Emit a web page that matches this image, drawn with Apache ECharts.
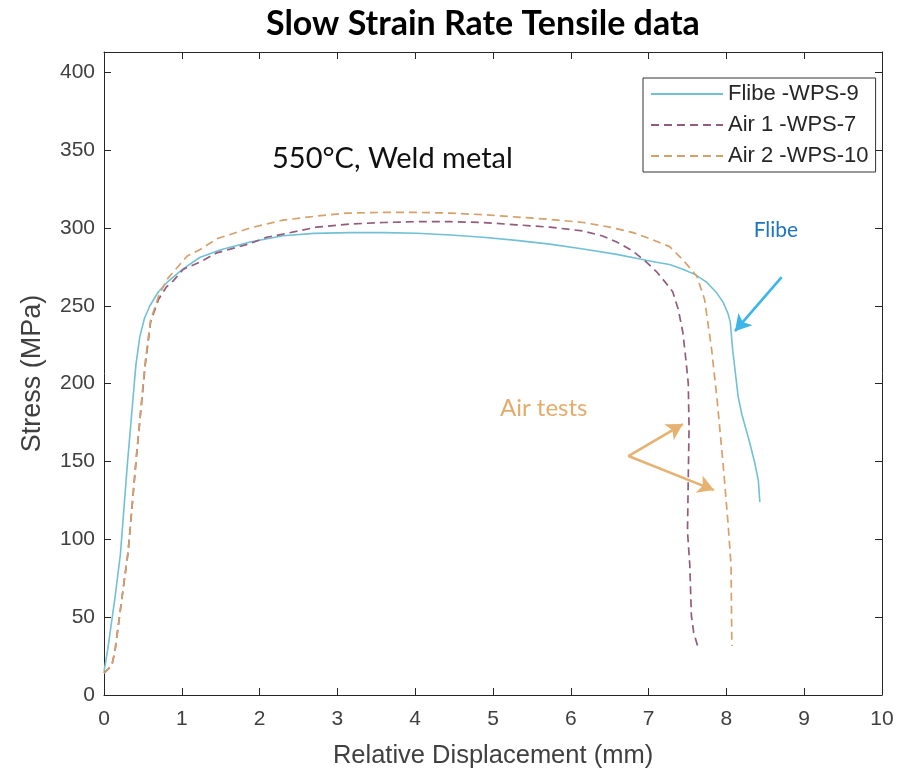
<!DOCTYPE html>
<html>
<head>
<meta charset="utf-8">
<title>Slow Strain Rate Tensile data</title>
<script src="https://cdn.jsdelivr.net/npm/echarts@6/dist/echarts.min.js"></script>
<style>
html,body{margin:0;padding:0;background:#fff;}
#main{width:897px;height:774px;}
</style>
</head>
<body>
<div id="main"></div>
<script>
// Flibe -WPS-9 (solid)
var flibeX = [0, 0.05, 0.14, 0.21, 0.3, 0.41, 0.46, 0.52, 0.59, 0.7, 0.81, 1.0, 1.23, 1.5, 1.88, 2.3, 2.7, 3.16, 3.6, 4.02, 4.45, 4.87, 5.3, 5.73, 6.16, 6.59, 6.89, 7.1, 7.27, 7.44, 7.6, 7.75, 7.88, 7.96, 8.02, 8.05, 8.08, 8.12, 8.15, 8.2, 8.3, 8.36, 8.41, 8.43];
var flibeY = [15, 30, 62, 90, 148, 212, 230, 242, 250, 259, 265, 273, 281, 286, 291, 295, 296.5, 297, 297, 296.6, 295.5, 294, 292, 289.6, 286.5, 283, 280, 278, 276.5, 273.5, 270, 265, 258, 252, 245, 239.5, 222, 205, 192, 180, 162, 150, 138, 124];
// Air 1 -WPS-7 (dashed)
var air1X = [0, 0.1, 0.14, 0.23, 0.31, 0.42, 0.53, 0.6, 0.7, 0.8, 0.89, 1.02, 1.23, 1.45, 1.88, 2.09, 2.3, 2.73, 3.16, 3.6, 4.02, 4.45, 4.87, 5.3, 5.73, 6.16, 6.4, 6.59, 6.8, 6.95, 7.1, 7.2, 7.31, 7.38, 7.44, 7.48, 7.51, 7.52, 7.51, 7.5, 7.53, 7.55, 7.58, 7.63];
var air1Y = [14, 19, 28, 62, 92, 155, 212, 240, 254, 262, 266, 273.5, 278, 284, 290, 294, 296, 300.5, 302.5, 303.5, 304, 304, 303.5, 302, 300.5, 298, 295, 291, 285, 279, 272, 266, 259, 248, 233, 215, 200, 171, 140, 105, 83, 51, 40, 31.5];
// Air 2 -WPS-10 (dashed)
var air2X = [0, 0.1, 0.14, 0.23, 0.31, 0.42, 0.53, 0.6, 0.7, 0.81, 1.07, 1.23, 1.45, 1.88, 2.3, 2.73, 3.12, 3.59, 4.02, 4.45, 4.87, 5.31, 5.73, 6.16, 6.5, 6.8, 7.05, 7.27, 7.45, 7.62, 7.72, 7.81, 7.88, 7.96, 8.02, 8.06, 8.07];
var air2Y = [14, 19, 28, 62, 92, 155, 214, 241, 256, 267, 282, 286, 293, 300, 305, 307.6, 309.5, 310, 310, 309.5, 308.5, 307, 305.5, 303.5, 300.5, 297, 292.5, 288, 279, 269, 254, 222, 190, 147, 111, 83, 31.5];

var seriesNames = ['Flibe -WPS-9', 'Air 1 -WPS-7', 'Air 2 -WPS-10'];
var xTicks = [0, 10, 1];     // min, max, interval
var yTicks = [0, 413, 50];

// annotations (data coords)
var flibeArrow = [[8.71, 268.4], [8.11, 233.7]];
var airArrows = [[[6.74, 153.5], [7.44, 174]], [[6.74, 153.5], [7.84, 131.6]]];
var notes = [
	{text: '550°C, Weld metal', at: [2.16, 342], color: '#111', size: 29},
	{text: 'Flibe', at: [8.35, 296.6], color: '#1f74c0', size: 21},
	{text: 'Air tests', at: [5.09, 182], color: '#e4ac6c', size: 24}
];

function pairs(xs, ys) {
	var out = [];
	for (var i = 0; i < xs.length; i++) out.push([xs[i], ys[i]]);
	return out;
}

var axisFont = 'Liberation Sans, Arial, sans-serif';
var noteFont = 'Lato, Open Sans, sans-serif';
var axisColor = '#262626';
var labelColor = '#404040';

function boxAxis(ticks, pos, opt) {
	return Object.assign({
		type: 'value', min: ticks[0], max: ticks[1], interval: ticks[2], position: pos,
		axisLine: {show: true, onZero: false, lineStyle: {color: axisColor, width: 1}},
		axisTick: {show: true, inside: true, length: 7, lineStyle: {color: axisColor}},
		axisLabel: {show: false},
		splitLine: {show: false}
	}, opt || {});
}

var chart = echarts.init(document.getElementById('main'), null, {renderer: 'canvas'});

var lineCommon = {type: 'line', symbol: 'none', showSymbol: false, smooth: false, silent: true};

var option = {
	backgroundColor: '#fff',
	animation: false,
	title: {
		text: 'Slow Strain Rate Tensile data', left: 261, top: 2,
		textStyle: {fontFamily: noteFont, fontWeight: 'bold', fontSize: 34, color: '#000'}
	},
	grid: {left: 104, right: 15, top: 52, bottom: 78},
	legend: {
		data: seriesNames, orient: 'vertical', left: 643, top: 78,
		backgroundColor: '#fff', borderColor: '#333', borderWidth: 1,
		padding: [5, 7, 5, 7], itemWidth: 72, itemHeight: 14, itemGap: 9,
		itemStyle: {opacity: 0},
		textStyle: {fontFamily: axisFont, fontSize: 22, color: '#262626'}
	},
	xAxis: [
		boxAxis(xTicks, 'bottom', {
			axisLabel: {show: true, fontFamily: axisFont, fontSize: 21, color: labelColor, margin: 14},
			name: 'Relative Displacement (mm)', nameLocation: 'middle', nameGap: 48,
			nameTextStyle: {fontFamily: axisFont, fontSize: 25.5, color: labelColor}
		}),
		boxAxis(xTicks, 'top')
	],
	yAxis: [
		boxAxis(yTicks, 'left', {
			axisLabel: {show: true, fontFamily: axisFont, fontSize: 21, color: labelColor, margin: 9,
				formatter: function (v) { return v % 50 === 0 ? v : ''; }},
			name: 'Stress (MPa)', nameLocation: 'middle', nameGap: 58,
			nameTextStyle: {fontFamily: axisFont, fontSize: 27, color: labelColor}
		}),
		boxAxis(yTicks, 'right')
	],
	series: [
		Object.assign({name: seriesNames[0], data: pairs(flibeX, flibeY),
			lineStyle: {color: '#72c0d6', width: 1.6}, itemStyle: {color: '#72c0d6'}}, lineCommon),
		Object.assign({name: seriesNames[1], data: pairs(air1X, air1Y),
			lineStyle: {color: '#935b7c', width: 1.7, type: [8, 5]}, itemStyle: {color: '#935b7c'}}, lineCommon),
		Object.assign({name: seriesNames[2], data: pairs(air2X, air2Y),
			lineStyle: {color: '#d6a06a', width: 1.7, type: [8, 5]}, itemStyle: {color: '#d6a06a'}}, lineCommon),
		{
			name: 'arrows', type: 'line', data: [], silent: true,
			markLine: {
				silent: true, symbol: ['none', 'arrow'], symbolSize: [14, 16], label: {show: false},
				animation: false,
				data: [
					[{coord: flibeArrow[0], lineStyle: {color: '#3db5e8', width: 2.6, type: 'solid'}}, {coord: flibeArrow[1]}],
					[{coord: airArrows[0][0], lineStyle: {color: '#e6b271', width: 2.6, type: 'solid'}}, {coord: airArrows[0][1]}],
					[{coord: airArrows[1][0], lineStyle: {color: '#e6b271', width: 2.6, type: 'solid'}}, {coord: airArrows[1][1]}]
				]
			}
		}
	]
};
chart.setOption(option);

// place the text notes from data coords
var g = [];
for (var i = 0; i < notes.length; i++) {
	var p = chart.convertToPixel({gridIndex: 0}, notes[i].at);
	g.push({
		type: 'text', left: p[0], top: p[1] - notes[i].size * 0.62,
		style: {text: notes[i].text, fill: notes[i].color, fontSize: notes[i].size, fontFamily: noteFont}
	});
}
chart.setOption({graphic: g});
</script>
</body>
</html>
